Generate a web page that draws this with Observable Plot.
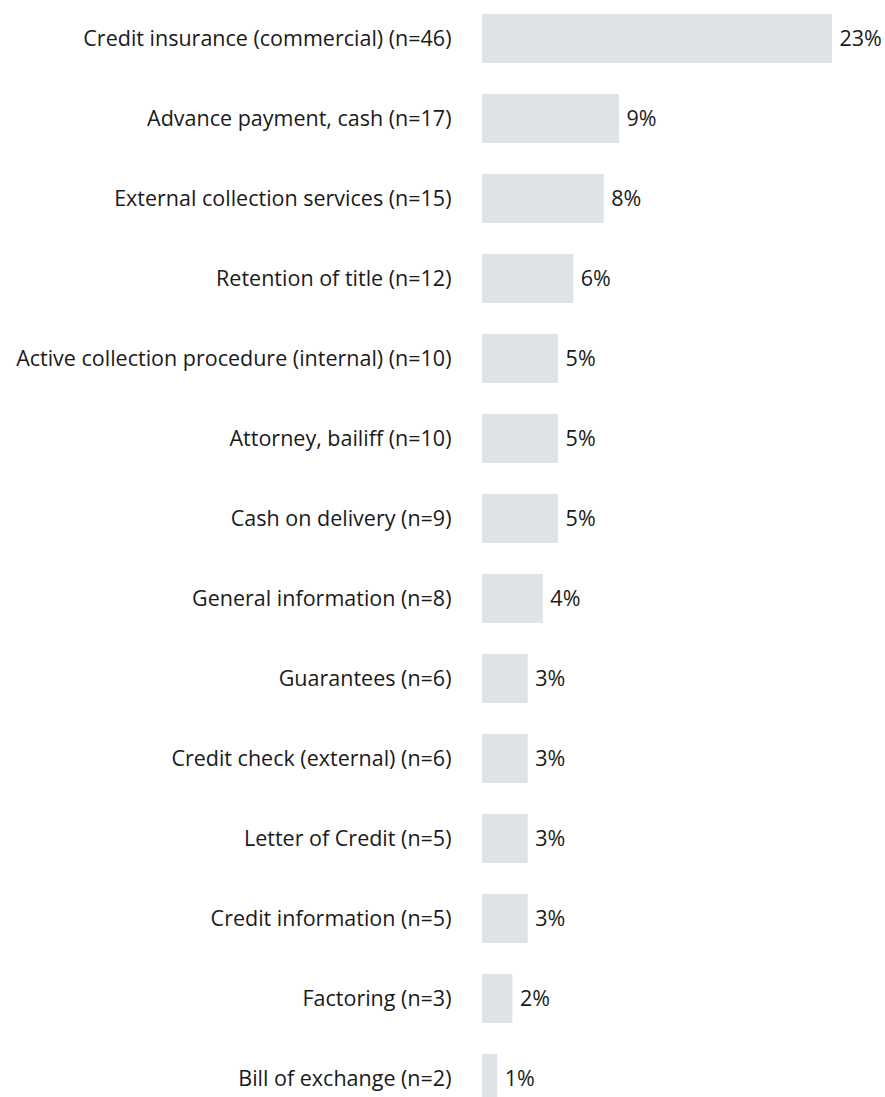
<!DOCTYPE html>
<html>
<head>
<meta charset="utf-8">
<script src="https://cdn.jsdelivr.net/npm/d3@7"></script>
<script src="https://cdn.jsdelivr.net/npm/@observablehq/plot@0.6"></script>
<style>
  html, body { margin: 0; padding: 0; background: #fff; overflow: hidden; }
  #chart svg { display: block; overflow: visible; }
</style>
</head>
<body>
<div id="chart"></div>
<script>
const categories = [
  "Credit insurance (commercial) (n=46)",
  "Advance payment, cash (n=17)",
  "External collection services (n=15)",
  "Retention of title (n=12)",
  "Active collection procedure (internal) (n=10)",
  "Attorney, bailiff (n=10)",
  "Cash on delivery (n=9)",
  "General information (n=8)",
  "Guarantees (n=6)",
  "Credit check (external) (n=6)",
  "Letter of Credit (n=5)",
  "Credit information (n=5)",
  "Factoring (n=3)",
  "Bill of exchange (n=2)"
];
const values = [23, 9, 8, 6, 5, 5, 5, 4, 3, 3, 3, 3, 2, 1];

const data = categories.map((c, i) => ({category: c, value: values[i]}));

const chart = Plot.plot({
  width: 885,
  height: 1117,
  marginLeft: 482,
  marginRight: 53,
  marginTop: 0,
  marginBottom: 0,
  style: {fontFamily: "'Open Sans', sans-serif", fontSize: "21.5px", color: "#1a1a1a"},
  x: {domain: [0, 23], axis: null},
  y: {domain: categories, paddingInner: 0.3875, paddingOuter: 0.175, label: null},
  marks: [
    Plot.barX(data, {x: "value", y: "category", fill: "#dfe2e6"}),
    Plot.axisY({tickSize: 0, tickPadding: 31, fontSize: 21.5, label: null}),
    Plot.text(data, {x: "value", y: "category", text: d => d.value + "%", textAnchor: "start", dx: 7, fontSize: 21.5, fill: "#1a1a1a"})
  ]
});
document.getElementById("chart").appendChild(chart);
</script>
</body>
</html>
